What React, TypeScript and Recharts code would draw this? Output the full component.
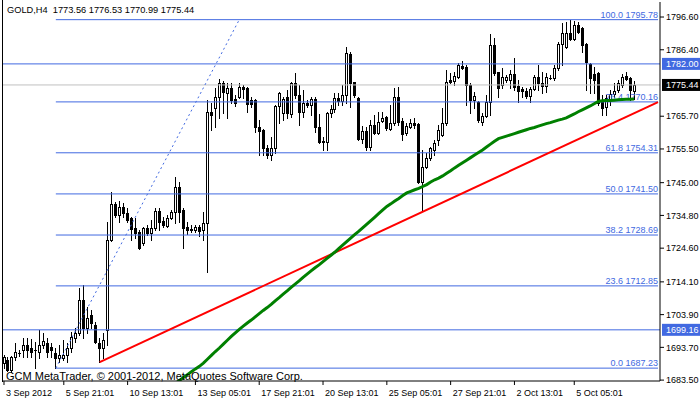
import { ComposedChart, Bar, Line, XAxis, YAxis, ReferenceLine } from "recharts";

const FONT = "'Liberation Sans', Arial, sans-serif";
const BLUE = "#4169E1";

// H4 candles, 3 Sep - 5 Oct 2012
const opens = [
  1688.8, 1689.8, 1686.7, 1690.7, 1691.9, 1692.9, 1694.4, 1693.5, 1692.9, 1692.3,
  1694.4, 1695.1, 1693.8, 1691.9, 1690.4, 1690.4, 1691.3, 1693.5, 1696.6, 1698.2,
  1708.5, 1699.7, 1703.8, 1700.7, 1695.1, 1693.5, 1699.1, 1727.1, 1738.4, 1734.9,
  1737.4, 1735.6, 1734.0, 1730.9, 1729.6, 1726.2, 1730.9, 1729.3, 1730.9, 1736.2,
  1733.1, 1731.5, 1734.0, 1735.9, 1743.7, 1736.5, 1731.2, 1730.6, 1730.3, 1731.2,
  1730.3, 1732.4, 1767.0, 1768.3, 1771.7, 1776.1, 1772.9, 1774.5, 1771.1, 1771.7,
  1774.8, 1774.5, 1770.8, 1770.8, 1762.3, 1761.4, 1755.8, 1753.6, 1755.8, 1768.9,
  1766.7, 1771.7, 1766.4, 1776.1, 1772.3, 1767.0, 1769.8, 1769.2, 1771.1, 1762.3,
  1757.7, 1757.7, 1766.7, 1767.9, 1771.4, 1770.4, 1772.3, 1785.1, 1776.4, 1771.4,
  1758.6, 1761.1, 1756.1, 1763.0, 1760.5, 1764.2, 1765.5, 1761.7, 1763.6, 1771.7,
  1764.2, 1760.5, 1762.3, 1763.6, 1763.3, 1745.2, 1749.9, 1752.7, 1755.2, 1758.3,
  1759.9, 1763.6, 1777.0, 1776.7, 1777.9, 1781.3, 1781.0, 1775.4, 1770.8, 1770.1,
  1763.9, 1765.8, 1770.1, 1787.9, 1779.5, 1775.4, 1777.0, 1777.0, 1778.8, 1775.1,
  1774.2, 1773.6, 1772.0, 1774.2, 1777.9, 1776.1, 1775.1, 1777.6, 1777.6, 1780.7,
  1788.2, 1787.3, 1791.6, 1789.8, 1794.1, 1793.2, 1788.2, 1782.0, 1778.9, 1779.2,
  1770.8, 1768.6, 1770.8, 1772.6, 1773.9, 1775.4, 1778.2, 1777.6, 1773.56,
];
const highs = [
  1691.3, 1690.7, 1691.0, 1695.1, 1692.9, 1696.6, 1696.6, 1696.3, 1695.4, 1699.1,
  1698.2, 1696.6, 1695.1, 1693.5, 1694.4, 1696.0, 1695.1, 1698.5, 1699.7, 1712.2,
  1713.1, 1706.3, 1705.3, 1701.6, 1696.6, 1698.2, 1732.7, 1742.1, 1739.0, 1739.3,
  1738.7, 1737.1, 1734.3, 1734.0, 1730.3, 1731.2, 1731.8, 1733.4, 1737.1, 1737.1,
  1734.3, 1734.9, 1736.5, 1746.8, 1745.2, 1737.1, 1732.7, 1731.8, 1731.8, 1731.8,
  1735.9, 1770.8, 1769.8, 1774.5, 1777.3, 1776.7, 1776.1, 1776.1, 1772.3, 1776.1,
  1775.4, 1774.8, 1771.7, 1771.1, 1764.5, 1761.7, 1756.7, 1759.2, 1769.2, 1773.2,
  1771.7, 1773.9, 1776.4, 1779.2, 1775.4, 1773.9, 1770.8, 1771.7, 1771.7, 1766.4,
  1759.2, 1767.0, 1769.2, 1772.9, 1772.9, 1775.4, 1787.3, 1785.7, 1776.5, 1771.7,
  1762.7, 1762.3, 1764.5, 1766.1, 1767.0, 1767.0, 1765.8, 1769.2, 1774.5, 1774.8,
  1765.1, 1763.6, 1764.8, 1765.1, 1763.6, 1755.2, 1754.2, 1756.1, 1758.3, 1763.0,
  1768.3, 1780.1, 1779.2, 1779.5, 1782.3, 1782.9, 1781.7, 1776.1, 1773.2, 1770.4,
  1766.7, 1772.3, 1791.3, 1790.1, 1779.6, 1780.7, 1778.5, 1780.1, 1783.8, 1777.0,
  1774.8, 1774.5, 1774.8, 1778.5, 1781.7, 1779.5, 1779.2, 1778.5, 1781.7, 1788.8,
  1794.7, 1795.1, 1795.78, 1795.4, 1795.1, 1793.5, 1788.5, 1782.3, 1781.0, 1779.5,
  1772.3, 1772.3, 1773.9, 1776.1, 1777.0, 1778.9, 1779.5, 1777.9, 1776.53,
];
const lows = [
  1687.3, 1686.4, 1686.0, 1689.8, 1691.0, 1690.7, 1690.7, 1690.7, 1687.3, 1690.4,
  1693.5, 1690.7, 1690.7, 1687.23, 1689.1, 1689.8, 1689.1, 1692.3, 1695.4, 1697.5,
  1696.6, 1698.2, 1699.7, 1695.1, 1689.1, 1690.4, 1694.4, 1726.8, 1734.3, 1732.7,
  1734.3, 1732.7, 1727.1, 1727.8, 1724.3, 1725.6, 1728.7, 1727.1, 1730.3, 1730.3,
  1731.2, 1731.2, 1733.8, 1732.4, 1732.7, 1724.7, 1729.0, 1729.6, 1729.6, 1728.4,
  1727.1, 1717.2, 1761.4, 1762.3, 1765.1, 1766.7, 1765.1, 1769.8, 1768.9, 1771.4,
  1771.4, 1767.0, 1768.6, 1760.8, 1753.6, 1753.6, 1752.7, 1752.1, 1754.2, 1763.6,
  1764.5, 1765.1, 1765.4, 1771.4, 1763.0, 1765.4, 1768.6, 1766.1, 1760.8, 1757.4,
  1755.2, 1755.2, 1765.4, 1767.0, 1769.2, 1769.2, 1769.8, 1768.6, 1771.7, 1758.3,
  1757.4, 1755.2, 1755.2, 1760.2, 1760.2, 1763.8, 1761.4, 1761.4, 1763.0, 1763.0,
  1758.3, 1759.9, 1762.0, 1762.0, 1744.9, 1736.5, 1749.6, 1752.1, 1753.6, 1756.7,
  1759.6, 1763.0, 1776.1, 1775.4, 1777.6, 1780.4, 1769.2, 1766.7, 1768.3, 1763.9,
  1763.0, 1765.4, 1766.1, 1778.5, 1771.7, 1774.5, 1776.4, 1774.5, 1773.9, 1770.1,
  1771.7, 1771.4, 1770.1, 1773.9, 1773.9, 1772.9, 1773.2, 1777.3, 1777.0, 1780.1,
  1781.7, 1787.0, 1789.4, 1789.4, 1791.6, 1785.7, 1773.9, 1772.9, 1772.9, 1769.2,
  1766.1, 1766.1, 1769.2, 1771.7, 1773.2, 1774.8, 1777.0, 1770.8, 1770.99,
];
const closes = [
  1690.7, 1686.7, 1690.7, 1692.3, 1691.8, 1694.4, 1692.9, 1692.3, 1693.0, 1694.4,
  1695.7, 1692.3, 1692.9, 1690.4, 1691.3, 1691.3, 1693.5, 1696.9, 1698.2, 1708.5,
  1699.7, 1702.8, 1701.3, 1695.4, 1693.5, 1696.0, 1727.1, 1738.4, 1734.9, 1737.4,
  1735.6, 1733.4, 1730.6, 1729.3, 1724.7, 1730.9, 1729.3, 1730.9, 1736.2, 1732.7,
  1731.8, 1734.0, 1735.9, 1743.7, 1735.9, 1730.9, 1730.3, 1730.4, 1731.2, 1729.9,
  1732.4, 1767.0, 1766.1, 1771.7, 1776.1, 1773.2, 1774.5, 1770.8, 1769.8, 1774.8,
  1774.2, 1769.5, 1769.5, 1762.3, 1761.1, 1755.8, 1753.6, 1755.8, 1768.9, 1772.9,
  1771.1, 1766.7, 1776.1, 1772.3, 1767.0, 1769.8, 1769.2, 1771.1, 1762.3, 1757.7,
  1758.0, 1766.7, 1767.9, 1771.4, 1770.4, 1772.3, 1785.4, 1776.1, 1772.3, 1758.6,
  1761.1, 1756.1, 1763.0, 1760.5, 1763.9, 1765.1, 1762.0, 1763.6, 1771.7, 1763.9,
  1760.2, 1762.7, 1763.6, 1763.0, 1745.2, 1749.9, 1752.7, 1755.8, 1757.4, 1761.4,
  1763.6, 1776.4, 1776.4, 1778.2, 1781.7, 1780.7, 1775.4, 1770.8, 1772.0, 1764.5,
  1765.8, 1770.1, 1787.9, 1779.2, 1774.5, 1777.9, 1777.9, 1778.8, 1774.8, 1773.6,
  1773.6, 1772.0, 1774.2, 1777.9, 1776.1, 1775.1, 1777.9, 1777.5, 1780.7, 1788.2,
  1791.6, 1791.6, 1789.8, 1794.1, 1791.9, 1787.9, 1782.6, 1777.6, 1777.0, 1769.8,
  1768.3, 1771.4, 1772.6, 1773.6, 1776.1, 1777.9, 1777.3, 1773.9, 1775.44,
];

// moving average (green), first value belongs to bar 40
const maStart = 40;
const maValues = [
  1679.9, 1680.8, 1681.7, 1682.5, 1683.4, 1684.3, 1685.2, 1686.1, 1687.0, 1687.8,
  1688.8, 1690.0, 1691.2, 1692.4, 1693.5, 1694.7, 1695.9, 1697.1, 1698.2, 1699.3,
  1700.3, 1701.3, 1702.2, 1703.2, 1704.2, 1705.2, 1706.1, 1707.1, 1708.2, 1709.2,
  1710.3, 1711.3, 1712.4, 1713.4, 1714.4, 1715.5, 1716.5, 1717.5, 1718.5, 1719.4,
  1720.4, 1721.4, 1722.4, 1723.4, 1724.5, 1725.6, 1726.7, 1727.8, 1728.9, 1729.9,
  1731.0, 1732.1, 1733.2, 1734.3, 1735.4, 1736.5, 1737.6, 1738.4, 1739.3, 1740.1,
  1741.0, 1741.8, 1742.3, 1742.8, 1743.2, 1743.8, 1744.4, 1745.2, 1745.9, 1746.4,
  1747.1, 1747.9, 1748.7, 1749.6, 1750.4, 1751.2, 1752.0, 1752.8, 1753.6, 1754.4,
  1755.2, 1756.1, 1757.0, 1757.9, 1758.7, 1759.1, 1759.5, 1759.9, 1760.3, 1760.7,
  1761.1, 1761.5, 1761.9, 1762.2, 1762.6, 1763.0, 1763.4, 1763.7, 1764.1, 1764.5,
  1764.8, 1765.2, 1765.8, 1766.4, 1767.1, 1767.7, 1768.3, 1768.9, 1769.6, 1770.3,
  1770.5, 1770.6, 1770.6, 1770.7, 1770.8, 1770.9, 1771.0, 1771.0, 1771.1,
];

// red trend line and fibo anchor line: [bar, price]
const trendPoints = [[24, 1689.1], [164, 1770.1]];
const fiboAnchors = [[13, 1687.23], [59, 1795.78]];

const fiboLevels = ["0.0", "23.6", "38.2", "50.0", "61.8", "76.4", "100.0"];
const fiboPrices = [1687.23, 1712.85, 1728.69, 1741.5, 1754.31, 1770.16, 1795.78];

const hLines = [1782.0, 1699.16];
const bid = 1775.44;

const yTicks = [1796.6, 1786.4, 1765.7, 1755.5, 1745.0, 1734.8, 1724.6, 1714.1, 1703.9, 1693.7, 1683.5];
const xTickBars = [0, 15, 31, 48, 64, 80, 96, 112, 128, 143];
const xTickLabels = [
  "3 Sep 2012", "5 Sep 21:01", "10 Sep 13:01", "13 Sep 05:01", "17 Sep 21:01",
  "20 Sep 13:01", "25 Sep 05:01", "27 Sep 21:01", "2 Oct 13:01", "5 Oct 05:01",
];

const TOTAL_BARS = 165;

const data = Array.from({ length: TOTAL_BARS }, (_, i) => {
  const t = trendPoints.find((p) => p[0] === i);
  const f = fiboAnchors.find((p) => p[0] === i);
  const m = i - maStart;
  return {
    i,
    o: i < opens.length ? opens[i] : null,
    h: i < highs.length ? highs[i] : null,
    l: i < lows.length ? lows[i] : null,
    c: i < closes.length ? closes[i] : null,
    ma: m >= 0 && m < maValues.length ? maValues[m] : null,
    trend: t ? t[1] : null,
    fibo: f ? f[1] : null,
  };
});

const Candle = (props: any) => {
  const { x, y, width, height, payload } = props;
  if (!payload || payload.o == null || x == null) return null;
  const { o, h, l, c } = payload;
  const top = Math.min(y, y + height);
  const bot = Math.max(y, y + height);
  const py = (p: number) => (h === l ? top : top + ((h - p) / (h - l)) * (bot - top));
  const cx = Math.floor(x + width / 2);
  const bTop = Math.round(py(Math.max(o, c)));
  const bBot = Math.round(py(Math.min(o, c)));
  return (
    <g>
      <line x1={cx + 0.5} x2={cx + 0.5} y1={Math.round(top)} y2={Math.round(bot) + 1} stroke="#000" />
      {bBot - bTop < 1 ? (
        <line x1={cx - 1} x2={cx + 2} y1={bTop + 0.5} y2={bTop + 0.5} stroke="#000" />
      ) : (
        <rect
          x={cx - 0.5}
          y={bTop + 0.5}
          width={2}
          height={bBot - bTop}
          fill={c >= o ? "#fff" : "#000"}
          stroke="#000"
        />
      )}
    </g>
  );
};

const XTick = ({ x, y, payload }: any) => {
  const k = xTickBars.indexOf(payload.value);
  return (
    <text x={x + 2} y={y + 9} fontSize={9} fontFamily={FONT} fill="#000">
      {xTickLabels[k]}
    </text>
  );
};

const fiboLabel = (text: string) => (props: any) => {
  const vb = props.viewBox;
  return (
    <text x={vb.x + vb.width} y={vb.y - 2} textAnchor="end" fontSize={9} fontFamily={FONT} fill={BLUE}>
      {text}
    </text>
  );
};

const priceBox = (value: number, bg: string) => (props: any) => {
  const vb = props.viewBox;
  const right = vb.x + vb.width;
  return (
    <g>
      <rect x={right + 2} y={vb.y - 6} width={38} height={12} fill={bg} />
      <text x={right + 6} y={vb.y + 3.5} fontSize={9} fontFamily={FONT} fill="#fff">
        {value.toFixed(2)}
      </text>
    </g>
  );
};

export default function App() {
  return (
    <div
      style={{ position: "fixed", left: 0, top: 0, width: 700, height: 402, background: "#fff", overflow: "hidden" }}
    >
      <ComposedChart
        width={700}
        height={402}
        data={data}
        margin={{ top: 2, right: 0, left: 2, bottom: 0 }}
        barCategoryGap={0}
      >
        <XAxis
          dataKey="i"
          type="category"
          ticks={xTickBars}
          interval={0}
          height={21}
          axisLine={{ stroke: "#000" }}
          tickLine={{ stroke: "#000" }}
          tickSize={4}
          tick={<XTick />}
        />
        <YAxis
          orientation="right"
          width={40}
          domain={[1683.22, 1801.28]}
          allowDataOverflow
          ticks={yTicks}
          interval={0}
          axisLine={{ stroke: "#000" }}
          tickLine={{ stroke: "#000" }}
          tickSize={4}
          tick={{ fontSize: 9, fill: "#000", fontFamily: FONT }}
          tickFormatter={(v: number) => v.toFixed(2)}
        />
        {fiboPrices.map((p, k) => (
          <ReferenceLine
            key={"fib" + k}
            segment={[{ x: 13, y: p }, { x: 164, y: p }]}
            stroke={BLUE}
            label={fiboLabel(fiboLevels[k] + " " + p.toFixed(2))}
          />
        ))}
        {hLines.map((p) => (
          <ReferenceLine key={"h" + p} y={p} stroke={BLUE} label={priceBox(p, BLUE)} />
        ))}
        <ReferenceLine y={bid} stroke="#c0c0c0" label={priceBox(bid, "#000")} />
        <Line
          dataKey="fibo"
          stroke={BLUE}
          strokeWidth={1}
          strokeDasharray="2 3"
          dot={false}
          connectNulls
          isAnimationActive={false}
        />
        <Bar dataKey={(d: any) => (d.o == null ? null : [d.l, d.h])} shape={Candle} isAnimationActive={false} />
        <Line dataKey="trend" stroke="#ff0000" strokeWidth={2} dot={false} connectNulls isAnimationActive={false} />
        <Line dataKey="ma" stroke="#008000" strokeWidth={3} dot={false} isAnimationActive={false} />
      </ComposedChart>
      <div style={{ position: "absolute", left: 2, top: 0, width: 1, height: 382, background: "#000" }} />
      <div
        style={{ position: "absolute", left: 7, top: 5, fontSize: 9.25, lineHeight: "11px", fontFamily: FONT, whiteSpace: "pre", color: "#000" }}
      >
        {"GOLD,H4  1773.56 1776.53 1770.99 1775.44"}
      </div>
      <div
        style={{ position: "absolute", left: 6, top: 370, fontSize: 11, lineHeight: "12px", fontFamily: FONT, whiteSpace: "pre", color: "#000" }}
      >
        {"GCM MetaTrader, © 2001-2012, MetaQuotes Software Corp."}
      </div>
    </div>
  );
}
